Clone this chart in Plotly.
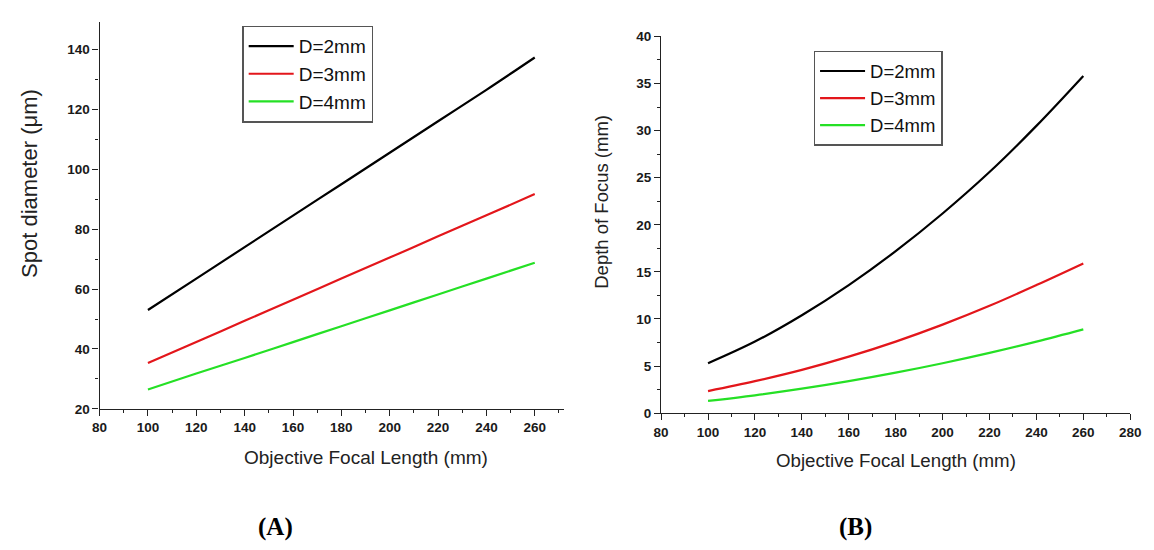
import plotly.graph_objects as go

focal = [100, 120, 140, 160, 180, 200, 220, 240, 260]
series_names = ["D=2mm", "D=3mm", "D=4mm"]
spot_d2 = [53.0, 63.5, 74.0, 84.5, 95.0, 105.5, 116.0, 126.5, 137.3]
spot_d3 = [35.3, 42.3, 49.4, 56.4, 63.5, 70.5, 77.6, 84.6, 91.7]
spot_d4 = [26.5, 31.8, 37.0, 42.3, 47.6, 52.9, 58.2, 63.5, 68.8]
dof_d2 = [5.3, 7.6, 10.4, 13.6, 17.2, 21.2, 25.6, 30.5, 35.8]
dof_d3 = [2.35, 3.4, 4.6, 6.0, 7.6, 9.4, 11.4, 13.6, 15.9]
dof_d4 = [1.3, 1.9, 2.6, 3.4, 4.3, 5.3, 6.4, 7.6, 8.9]
colors = ["#000000", "#e3161b", "#25e025"]
panel_labels = ["(A)", "(B)"]

# page body has an 8px default margin; size the figure so it fits the 1154x550 window
OFF = 8
W, H = 1154 - OFF, 550 - 2 * OFF
FONT = "Liberation Sans"


def px(sx):
    return (sx - OFF) / W


def py(sy):
    return 1 - (sy - OFF) / H


fig = go.Figure()
for name, ys, c in zip(series_names, [spot_d2, spot_d3, spot_d4], colors):
    fig.add_trace(go.Scatter(x=focal, y=ys, mode="lines", name=name, line=dict(color=c, width=2.2),
                             xaxis="x", yaxis="y", legend="legend", line_shape="spline"))
for name, ys, c in zip(series_names, [dof_d2, dof_d3, dof_d4], colors):
    fig.add_trace(go.Scatter(x=focal, y=ys, mode="lines", name=name, line=dict(color=c, width=2.2),
                             xaxis="x2", yaxis="y2", legend="legend2", line_shape="spline"))

tickfont = dict(family=FONT, size=13.5, color="#1a1a1a", weight="bold")


def ax(domain, rng, dtick, minor, anchor):
    return dict(domain=domain, range=rng, dtick=dtick, tick0=0, anchor=anchor,
                showline=True, linecolor="#222", linewidth=1.4, mirror=False,
                ticks="outside", ticklen=6, tickwidth=1.3, tickcolor="#222",
                minor=dict(ticks="outside", ticklen=3, dtick=minor, tickcolor="#222", tickwidth=1),
                showgrid=False, zeroline=False, tickfont=tickfont,
                ticklabeloverflow="allow",
                tickprefix="<b>", ticksuffix="</b>")


fig.update_layout(
    width=W, height=H, margin=dict(l=0, r=0, t=0, b=0),
    paper_bgcolor="white", plot_bgcolor="white",
    xaxis=ax([px(93), px(565)], [80, 272], 20, 10, "y"),
    yaxis=ax([py(413.3), py(15)], [20, 149.2], 20, 10, "x"),
    xaxis2=ax([px(664), px(1141)], [80, 280], 20, 10, "y2"),
    yaxis2=ax([py(417.7), py(30)], [0, 40], 5, 2.5, "x2"),
    legend=dict(x=px(238), y=py(19), xanchor="left", yanchor="top",
                bordercolor="#555", borderwidth=1.5, bgcolor="white",
                font=dict(family=FONT, size=19, color="#111"), itemwidth=45,
                tracegroupgap=0),
    legend2=dict(x=px(819), y=py(45), xanchor="left", yanchor="top",
                 bordercolor="#555", borderwidth=1.5, bgcolor="white",
                 font=dict(family=FONT, size=18.5, color="#111"), itemwidth=45,
                 tracegroupgap=0),
    showlegend=True,
)

titlefont = dict(family=FONT, color="#222")
annotations = [
    dict(text="Objective Focal Length (mm)", x=px(364), y=py(463), font=dict(size=19, **titlefont)),
    dict(text="Objective Focal Length (mm)", x=px(903), y=py(466), font=dict(size=18.7, **titlefont)),
    dict(text="Spot diameter (μm)", x=px(21), y=py(181), textangle=-90, font=dict(size=22, **titlefont)),
    dict(text="Depth of Focus (mm)", x=px(603), y=py(200), textangle=-90, font=dict(size=18.5, **titlefont)),
    dict(text="<b>" + panel_labels[0] + "</b>", x=px(272), y=py(535),
         font=dict(family="Liberation Serif", size=25, color="#000")),
    dict(text="<b>" + panel_labels[1] + "</b>", x=px(862), y=py(535),
         font=dict(family="Liberation Serif", size=25, color="#000")),
]
for a in annotations:
    a.update(xref="paper", yref="paper", showarrow=False, xanchor="center", yanchor="middle")
fig.update_layout(annotations=annotations)

fig.write_html("out.html")
